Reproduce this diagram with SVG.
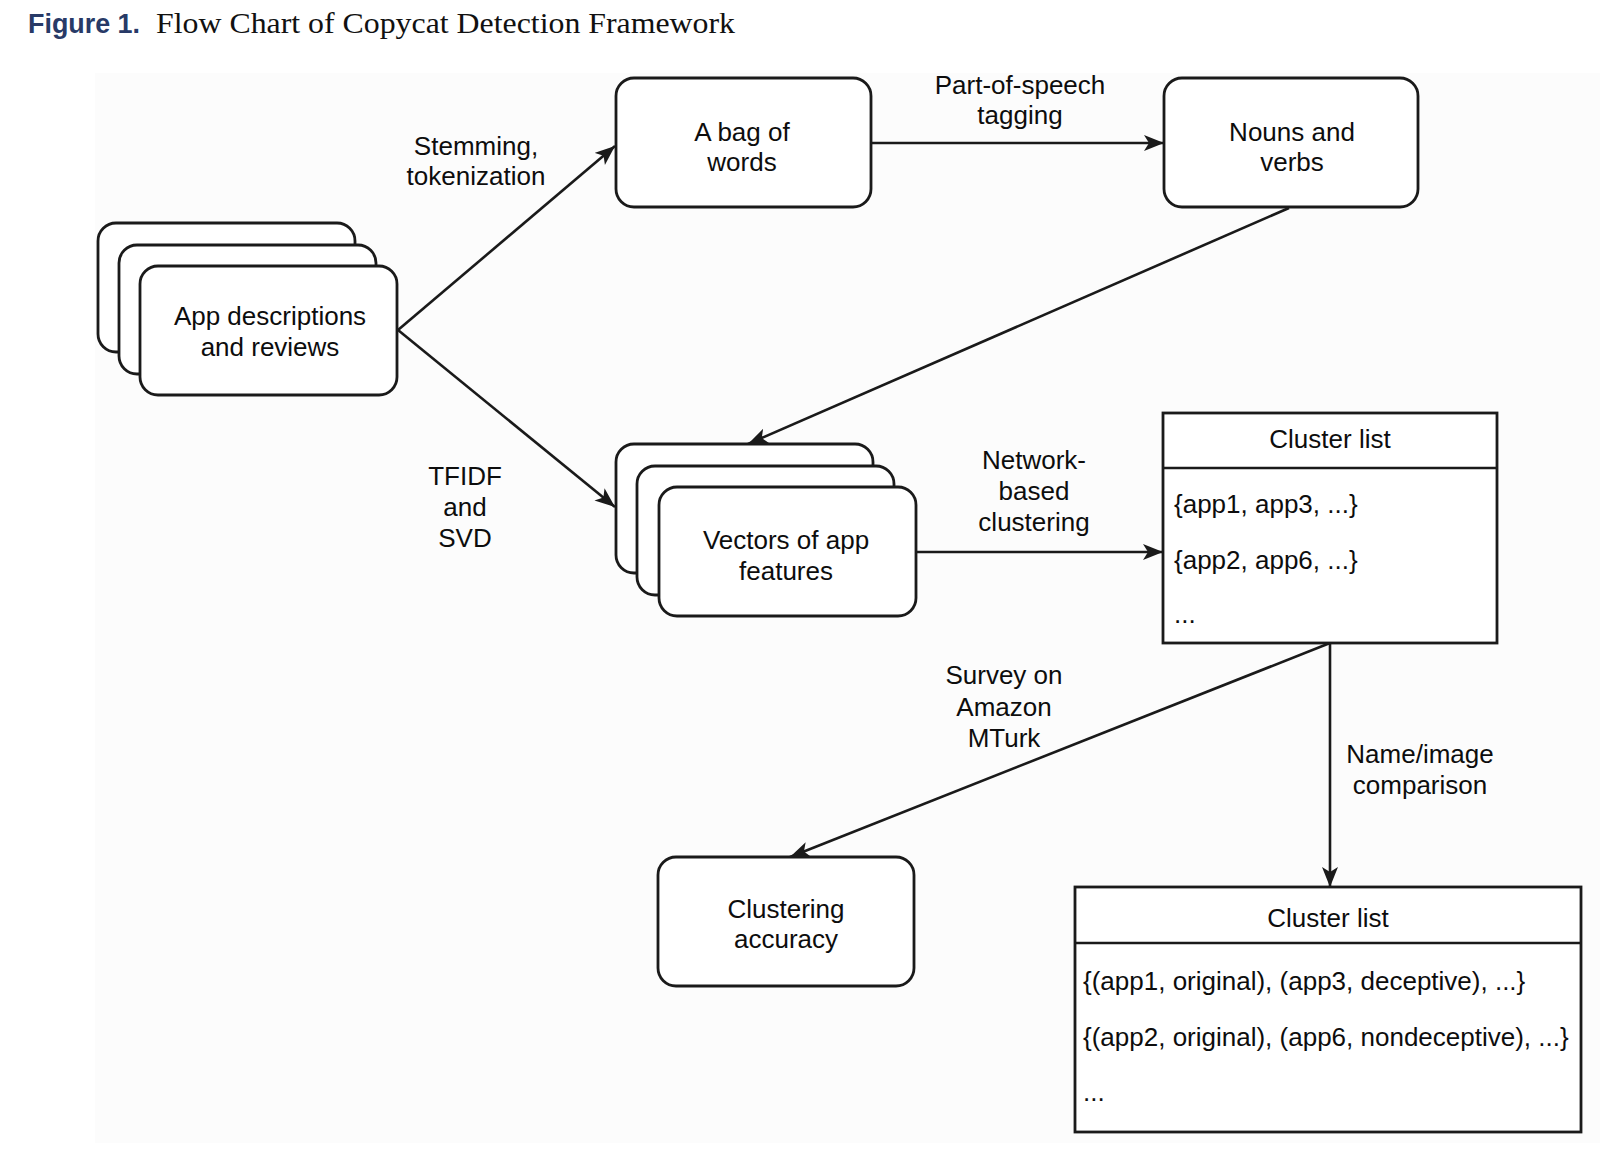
<svg xmlns="http://www.w3.org/2000/svg" width="1610" height="1156" viewBox="0 0 1610 1156">
<defs>
<style>
.t{font-family:"Liberation Sans",Arial,Helvetica,sans-serif;font-size:26px;fill:#0d0d0d;}
.c{text-anchor:middle;}
.box{fill:#fff;stroke:#1a1a1a;stroke-width:2.8;}
.ln{fill:none;stroke:#1a1a1a;stroke-width:2.6;}
</style>
<marker id="arr" markerUnits="userSpaceOnUse" markerWidth="24" markerHeight="18" refX="20" refY="8" orient="auto">
<path d="M0,0 L20,8 L0,16 L5,8 Z" fill="#1a1a1a"/>
</marker>
</defs>
<rect x="0" y="0" width="1610" height="1156" fill="#ffffff"/>
<rect x="95" y="73" width="1505" height="1070" fill="#fcfcfc"/>
<g id="title">
<text x="28" y="33" font-family="'Liberation Sans',Arial,sans-serif" font-weight="bold" font-size="28" fill="#283a67" textLength="112" lengthAdjust="spacingAndGlyphs">Figure 1.</text>
<text x="156" y="33" font-family="'Liberation Serif','Times New Roman',serif" font-size="30" fill="#111" textLength="579" lengthAdjust="spacingAndGlyphs">Flow Chart of Copycat Detection Framework</text>
</g>
<g id="connectors">
<line class="ln" x1="398" y1="330" x2="615" y2="146" marker-end="url(#arr)"/>
<line class="ln" x1="398" y1="330" x2="615" y2="507" marker-end="url(#arr)"/>
<line class="ln" x1="871" y1="143" x2="1164" y2="143" marker-end="url(#arr)"/>
<line class="ln" x1="1289" y1="208" x2="748" y2="444" marker-end="url(#arr)"/>
<line class="ln" x1="916" y1="552" x2="1163" y2="552" marker-end="url(#arr)"/>
<line class="ln" x1="1330" y1="643" x2="790" y2="857" marker-end="url(#arr)"/>
<line class="ln" x1="1330" y1="643" x2="1330" y2="887" marker-end="url(#arr)"/>
<text class="t c" x="476" y="155">Stemming,</text>
<text class="t c" x="476" y="185">tokenization</text>
<text class="t c" x="1020" y="94">Part-of-speech</text>
<text class="t c" x="1020" y="124">tagging</text>
<text class="t c" x="465" y="485">TFIDF</text>
<text class="t c" x="465" y="516">and</text>
<text class="t c" x="465" y="547">SVD</text>
<text class="t c" x="1034" y="469">Network-</text>
<text class="t c" x="1034" y="500">based</text>
<text class="t c" x="1034" y="531">clustering</text>
<text class="t c" x="1004" y="684">Survey on</text>
<text class="t c" x="1004" y="716">Amazon</text>
<text class="t c" x="1004" y="747">MTurk</text>
<text class="t c" x="1420" y="763">Name/image</text>
<text class="t c" x="1420" y="794">comparison</text>
</g>
<g id="app-descriptions">
<rect class="box" x="98" y="223" width="257" height="129" rx="18"/>
<rect class="box" x="119" y="245" width="257" height="129" rx="18"/>
<rect class="box" x="140" y="266" width="257" height="129" rx="18"/>
<text class="t c" x="270" y="325">App descriptions</text>
<text class="t c" x="270" y="356">and reviews</text>
</g>
<g id="bag-of-words">
<rect class="box" x="616" y="78" width="255" height="129" rx="18"/>
<text class="t c" x="742" y="141">A bag of</text>
<text class="t c" x="742" y="171">words</text>
</g>
<g id="nouns-verbs">
<rect class="box" x="1164" y="78" width="254" height="129" rx="18"/>
<text class="t c" x="1292" y="141">Nouns and</text>
<text class="t c" x="1292" y="171">verbs</text>
</g>
<g id="vectors">
<rect class="box" x="616" y="444" width="257" height="129" rx="18"/>
<rect class="box" x="637" y="466" width="257" height="129" rx="18"/>
<rect class="box" x="659" y="487" width="257" height="129" rx="18"/>
<text class="t c" x="786" y="549">Vectors of app</text>
<text class="t c" x="786" y="580">features</text>
</g>
<g id="cluster-list-1">
<rect class="box" x="1163" y="413" width="334" height="230"/>
<line class="ln" x1="1163" y1="468" x2="1497" y2="468" stroke-width="2.8"/>
<text class="t c" x="1330" y="448">Cluster list</text>
<text class="t" x="1174" y="513">{app1, app3, ...}</text>
<text class="t" x="1174" y="569">{app2, app6, ...}</text>
<text class="t" x="1174" y="623">...</text>
</g>
<g id="clustering-accuracy">
<rect class="box" x="658" y="857" width="256" height="129" rx="18"/>
<text class="t c" x="786" y="918">Clustering</text>
<text class="t c" x="786" y="948">accuracy</text>
</g>
<g id="cluster-list-2">
<rect class="box" x="1075" y="887" width="506" height="245"/>
<line class="ln" x1="1075" y1="943" x2="1581" y2="943" stroke-width="2.8"/>
<text class="t c" x="1328" y="927">Cluster list</text>
<text class="t" x="1083" y="990">{(app1, original), (app3, deceptive), ...}</text>
<text class="t" x="1083" y="1046">{(app2, original), (app6, nondeceptive), ...}</text>
<text class="t" x="1083" y="1101">...</text>
</g>
</svg>
